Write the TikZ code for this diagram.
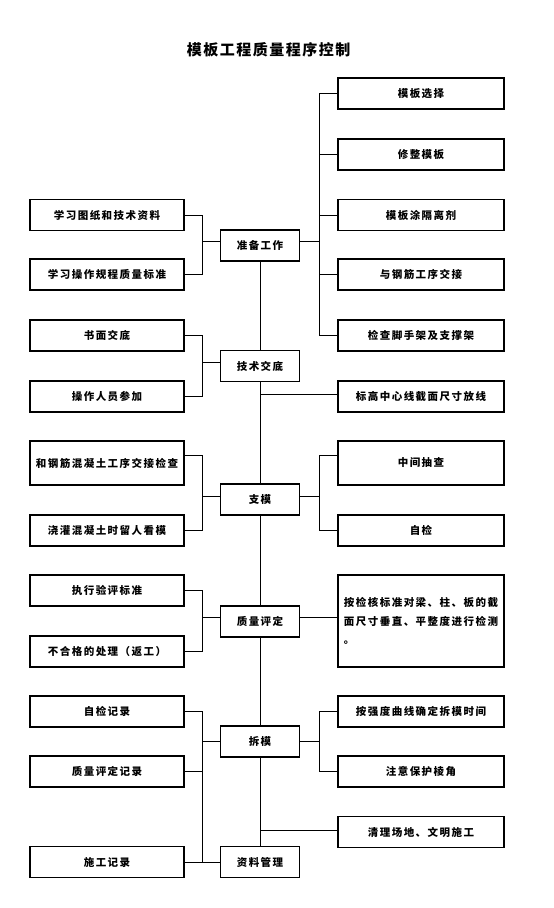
\documentclass[tikz,border=0pt]{standalone}
\usepackage{fontspec}
\setmainfont{Noto Sans CJK SC}[LetterSpace=14]
\newfontfamily\titlefont{Noto Sans CJK SC}[LetterSpace=10]
\begin{document}
\begin{tikzpicture}[x=1pt,y=-1pt,
  box/.style={draw, line width=1.2pt, inner sep=0pt, minimum height=31pt,
    font=\fontsize{10.5}{12}\selectfont\bfseries},
  lbox/.style={box, minimum width=154pt},
  cbox/.style={box, minimum width=79pt},
  rbox/.style={box, minimum width=166pt},
  link/.style={line width=0.8pt}]
\useasboundingbox (0,0) rectangle (554,908);
\fill[white] (0,0) rectangle (554,908);
\node (title) at (268.5,49.5) {\titlefont\fontsize{15}{17}\selectfont\bfseries 模板工程质量程序控制};
\coordinate (jl) at (202,0);
\coordinate (jr) at (319,0);
% centre column
\node[cbox] (C1) at (260,245.5) {准备工作};
\node[cbox] (C2) at (260,366) {技术交底};
\node[cbox] (C3) at (260,499.5) {支模};
\node[cbox] (C4) at (260,621.5) {质量评定};
\node[cbox] (C5) at (260,741.5) {拆模};
\node[cbox] (C6) at (260,862) {资料管理};
% left column
\node[lbox] (L1) at (107,215) {学习图纸和技术资料};
\node[lbox] (L2) at (107,274.5) {学习操作规程质量标准};
\node[lbox] (L3) at (107,335.5) {书面交底};
\node[lbox] (L4) at (107,396.5) {操作人员参加};
\node[lbox, minimum height=44pt] (L5) at (107,463) {和钢筋混凝土工序交接检查};
\node[lbox] (L6) at (107,530.5) {浇灌混凝土时留人看模};
\node[lbox] (L7) at (107,590.5) {执行验评标准};
\node[lbox] (L8) at (107,651.5) {不合格的处理（返工）};
\node[lbox] (L9) at (107,711.5) {自检记录};
\node[lbox] (L10) at (107,771.5) {质量评定记录};
\node[lbox] (L11) at (107,862) {施工记录};
% right column
\node[rbox] (R1) at (421,93.5) {模板选择};
\node[rbox] (R2) at (421,154.5) {修整模板};
\node[rbox] (R3) at (421,215) {模板涂隔离剂};
\node[rbox] (R4) at (421,274.5) {与钢筋工序交接};
\node[rbox] (R5) at (421,335.5) {检查脚手架及支撑架};
\node[rbox] (R6) at (421,396.5) {标高中心线截面尺寸放线};
\node[rbox, minimum height=44pt] (R7) at (421,463) {中间抽查};
\node[rbox] (R8) at (421,530.5) {自检};
\node[rbox, minimum height=92pt, align=left, font=\fontsize{10.5}{18.5}\selectfont\bfseries] (R9) at (421,621)
  {按检核标准对梁、柱、板的截\\面尺寸垂直、平整度进行检测\\。};
\node[rbox] (R10) at (421,711.5) {按强度曲线确定拆模时间};
\node[rbox] (R11) at (421,771.5) {注意保护棱角};
\node[rbox] (R12) at (421,832) {清理场地、文明施工};
% centre spine
\draw[link] (C1.south) -- (C2.north);
\draw[link] (C2.south) -- (C3.north);
\draw[link] (C3.south) -- (C4.north);
\draw[link] (C4.south) -- (C5.north);
\draw[link] (C5.south) -- (C6.north);
\draw[link] ([yshift=2pt]R6.west) -- ([yshift=2pt]R6.west -| C2.south);
\draw[link] ([yshift=2pt]R12.west) -- ([yshift=2pt]R12.west -| C5.south);
% group 1
\draw[link] (L1.east) -- (L1.east -| jl) -- (L2.east -| jl) -- (L2.east);
\draw[link] ([yshift=4pt]C1.west) -- ([yshift=4pt]C1.west -| jl);
\draw[link] (R1.west) -- (R1.west -| jr) -- (R5.west -| jr) -- (R5.west);
\draw[link] (R2.west) -- (R2.west -| jr);
\draw[link] (R3.west) -- (R3.west -| jr);
\draw[link] (R4.west) -- (R4.west -| jr);
\draw[link] ([yshift=4pt]C1.east) -- ([yshift=4pt]C1.east -| jr);
% group 2
\draw[link] (L3.east) -- (L3.east -| jl) -- (L4.east -| jl) -- (L4.east);
\draw[link] ([yshift=4pt]C2.west) -- ([yshift=4pt]C2.west -| jl);
% group 3
\draw[link] ([yshift=8pt]L5.east) -- ([yshift=8pt]L5.east -| jl) -- (L6.east -| jl) -- (L6.east);
\draw[link] ([yshift=3pt]C3.west) -- ([yshift=3pt]C3.west -| jl);
\draw[link] ([yshift=8pt]R7.west) -- ([yshift=8pt]R7.west -| jr) -- (R8.west -| jr) -- (R8.west);
\draw[link] ([yshift=3pt]C3.east) -- ([yshift=3pt]C3.east -| jr);
% group 4
\draw[link] (L7.east) -- (L7.east -| jl) -- (L8.east -| jl) -- (L8.east);
\draw[link] ([yshift=4pt]C4.west) -- ([yshift=4pt]C4.west -| jl);
\draw[link] ([yshift=4pt]C4.east) -- ([yshift=4pt]C4.east -| R9.west);
% group 5
\draw[link] (L9.east) -- (L9.east -| jl) -- (L11.east -| jl) -- (L11.east);
\draw[link] (L10.east) -- (L10.east -| jl);
\draw[link] (C5.west) -- (C5.west -| jl);
\draw[link] (C6.west) -- (C6.west -| jl);
\draw[link] (R10.west) -- (R10.west -| jr) -- (R11.west -| jr) -- (R11.west);
\draw[link] (C5.east) -- (C5.east -| jr);
\end{tikzpicture}
\end{document}
